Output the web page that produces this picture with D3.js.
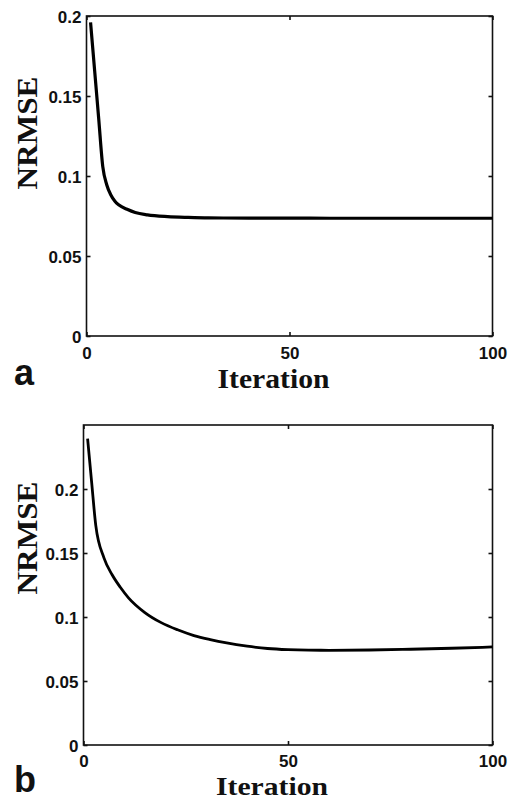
<!DOCTYPE html>
<html>
<head>
<meta charset="utf-8">
<script src="https://cdn.jsdelivr.net/npm/d3@7"></script>
<style>
  html, body { margin: 0; padding: 0; background: #fff; }
  svg { display: block; }
  .tick text { font-family: "Liberation Sans", Arial, sans-serif; font-weight: bold; font-size: 17px; fill: #111; }
  .ylab, .xlab { font-family: "Liberation Serif", "Times New Roman", serif; font-weight: bold; fill: #111; }
  .panel { font-family: "Liberation Sans", Arial, sans-serif; font-weight: bold; fill: #111; }
</style>
</head>
<body>
<svg id="chart" width="513" height="801"></svg>
<script>
// ---- data ----
const iterA = [1, 2, 3, 4, 5, 6, 7, 8, 10, 12, 15, 20, 25, 30, 40, 50, 60, 70, 80, 90, 100];
const nrmseA = [0.196, 0.166, 0.136, 0.106, 0.0944, 0.0881, 0.0842, 0.0818, 0.0792, 0.0772, 0.0757, 0.0746, 0.0741, 0.0738, 0.0737, 0.0737, 0.0736, 0.0736, 0.0736, 0.0736, 0.0736];

const iterB = [1, 2, 3, 5, 7, 9, 11, 15, 19, 23, 27, 31, 35, 40, 45, 50, 55, 60, 70, 80, 90, 100];
const nrmseB = [0.2394, 0.205, 0.1716, 0.1462, 0.1330, 0.1232, 0.1150, 0.1035, 0.0956, 0.0900, 0.0855, 0.0823, 0.0797, 0.0772, 0.0754, 0.0745, 0.0741, 0.0740, 0.0742, 0.0748, 0.0756, 0.0766];

const xTicks = [0, 50, 100];
const yTicks = [0, 0.05, 0.1, 0.15, 0.2];
const yTickLabels = ["0", "0.05", "0.1", "0.15", "0.2"];
const panelLabels = ["a", "b"];
const xTitle = "Iteration";
const yTitle = "NRMSE";

const svg = d3.select("#chart");

function panel(cfg) {
  const { left, right, top, bottom, yMax, iters, vals, lw, tag, tagY, xPad, ylabCY, xtitleY, xtitleSize } = cfg;
  const x = d3.scaleLinear().domain([0, 100]).range([left, right]);
  const y = d3.scaleLinear().domain([0, yMax]).range([bottom, top]);
  const g = svg.append("g");

  // frame
  g.append("rect").attr("x", left).attr("y", top)
    .attr("width", right - left).attr("height", bottom - top)
    .attr("fill", "none").attr("stroke", "#111").attr("stroke-width", 1.6);

  // left axis
  const ya = g.append("g").attr("transform", `translate(${left},0)`)
    .call(d3.axisLeft(y).tickValues(yTicks).tickFormat((d, i) => yTickLabels[i])
      .tickSizeInner(-4).tickSizeOuter(0).tickPadding(5));
  ya.select(".domain").remove();
  ya.selectAll(".tick line").attr("stroke", "#111").attr("stroke-width", 1.6);
  ya.selectAll(".tick text").attr("dy", "0.36em");

  // right axis ticks
  const yr = g.append("g").attr("transform", `translate(${right},0)`)
    .call(d3.axisRight(y).tickValues(yTicks).tickFormat("").tickSizeInner(-4).tickSizeOuter(0));
  yr.select(".domain").remove();
  yr.selectAll(".tick line").attr("stroke", "#111").attr("stroke-width", 1.6);

  // bottom axis
  const xa = g.append("g").attr("transform", `translate(0,${bottom})`)
    .call(d3.axisBottom(x).tickValues(xTicks).tickFormat(d3.format("d"))
      .tickSizeInner(-4).tickSizeOuter(0).tickPadding(xPad));
  xa.select(".domain").remove();
  xa.selectAll(".tick line").attr("stroke", "#111").attr("stroke-width", 1.6);

  // top axis ticks
  const xt = g.append("g").attr("transform", `translate(0,${top})`)
    .call(d3.axisTop(x).tickValues(xTicks).tickFormat("").tickSizeInner(-4).tickSizeOuter(0));
  xt.select(".domain").remove();
  xt.selectAll(".tick line").attr("stroke", "#111").attr("stroke-width", 1.6);

  // data line
  const line = d3.line().x((d, i) => x(iters[i])).y(d => y(d)).curve(d3.curveMonotoneX);
  g.append("path").datum(vals).attr("d", line)
    .attr("fill", "none").attr("stroke", "#000").attr("stroke-width", lw)
    .attr("stroke-linejoin", "round").attr("stroke-linecap", "butt");

  // titles
  g.append("text").attr("class", "ylab")
    .attr("transform", `translate(37,${ylabCY}) rotate(-90)`)
    .attr("text-anchor", "middle").attr("font-size", 29)
    .attr("textLength", 113).attr("lengthAdjust", "spacingAndGlyphs")
    .text(yTitle);
  g.append("text").attr("class", "xlab")
    .attr("x", (left + right) / 2 - 16).attr("y", xtitleY)
    .attr("text-anchor", "middle").attr("font-size", xtitleSize)
    .attr("textLength", 112).attr("lengthAdjust", "spacingAndGlyphs")
    .text(xTitle);
  g.append("text").attr("class", "panel")
    .attr("x", 14).attr("y", tagY).attr("font-size", 36)
    .text(tag);
}

panel({ left: 86.5, right: 492.5, top: 16, bottom: 336, yMax: 0.2,
  iters: iterA, vals: nrmseA, lw: 3.2, tag: panelLabels[0], tagY: 385,
  xPad: 11, ylabCY: 133, xtitleY: 388, xtitleSize: 28 });
panel({ left: 83.5, right: 492.5, top: 425, bottom: 745, yMax: 0.25,
  iters: iterB, vals: nrmseB, lw: 2.8, tag: panelLabels[1], tagY: 792,
  xPad: 10, ylabCY: 538, xtitleY: 795, xtitleSize: 26 });
</script>
</body>
</html>
